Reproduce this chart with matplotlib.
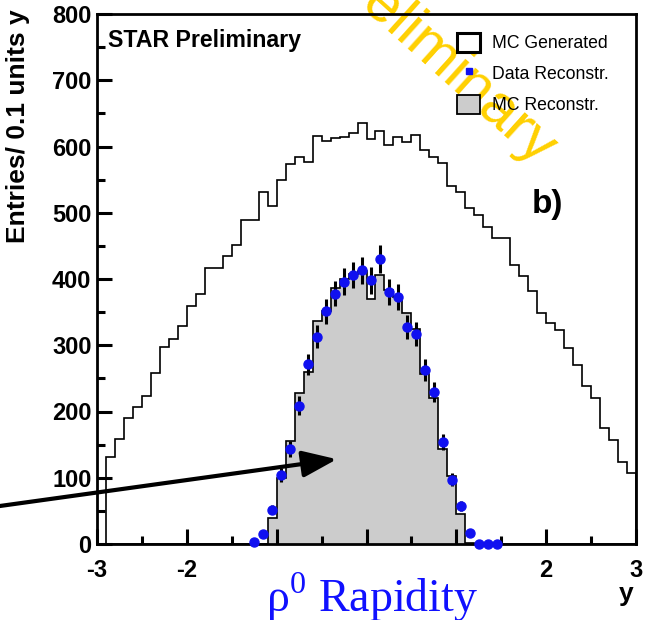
import numpy as np
import matplotlib
matplotlib.use("Agg")
import matplotlib.pyplot as plt
from matplotlib.patches import Patch
from matplotlib.lines import Line2D

plt.rcParams['font.family'] = ['Liberation Sans', 'DejaVu Sans']
plt.rcParams['axes.unicode_minus'] = False
plt.rcParams['mathtext.fontset'] = 'custom'
plt.rcParams['mathtext.rm'] = 'Liberation Serif'

# ======== Data (60 bins of 0.1 in y, from -3 to 3) ========
bin_edges = np.linspace(-3.0, 3.0, 61)

mc_generated = [
    0, 131, 158, 190, 207, 224, 258, 298, 309, 329,
    360, 377, 416, 416, 434, 451, 489, 489, 532, 510,
    549, 574, 584, 576, 616, 608, 613, 614, 620, 636,
    611, 624, 602, 615, 607, 618, 594, 584, 575, 540,
    532, 507, 497, 478, 462, 462, 421, 404, 382, 348,
    334, 323, 296, 270, 239, 220, 175, 157, 124, 107,
]

mc_reconstr = [
    0, 0, 0, 0, 0, 0, 0, 0, 0, 0,
    0, 0, 0, 0, 0, 0, 0, 0, 0, 40,
    100, 156, 228, 260, 337, 352, 387, 400, 407, 412,
    370, 406, 384, 373, 349, 325, 257, 220, 144, 103,
    46, 2, 0, 0, 0, 0, 0, 0, 0, 0,
    0, 0, 0, 0, 0, 0, 0, 0, 0, 0,
]

# data points: rapidity bin centres and counts
data_y = [-1.25, -1.15, -1.05, -0.95, -0.85, -0.75, -0.65, -0.55, -0.45,
          -0.35, -0.25, -0.15, -0.05, 0.05, 0.15, 0.25, 0.35, 0.45, 0.55,
          0.65, 0.75, 0.85, 0.95, 1.05, 1.15, 1.25, 1.35, 1.45]
data_counts = [3, 15, 52, 104, 143, 209, 271, 313, 351, 378, 396, 406, 413,
               398, 430, 381, 373, 327, 317, 263, 229, 154, 97, 58, 16, 0, 0, 0]

# -1, 0 and 1 are hidden under the title in the original
x_ticks = [-3, -2, -1, 0, 1, 2, 3]
x_tick_labels = ['-3', '-2', '', '', '', '2', '3']

BLUE = '#1010f0'
GREY = '#cccccc'

# ======== Plot ========
W, H = 648, 620
fig = plt.figure(figsize=(W / 100, H / 100), dpi=100)
ax = fig.add_axes([97 / W, 1 - 544 / H, 539 / W, 530 / H])

ax.stairs(mc_reconstr, bin_edges, fill=True, color=GREY, zorder=1)
ax.stairs(mc_reconstr, bin_edges, color='black', lw=1.2, zorder=2)
ax.stairs(mc_generated, bin_edges, color='black', lw=1.2, zorder=2)

yerr = np.sqrt(np.array(data_counts, dtype=float))
ax.errorbar(data_y, data_counts, yerr=yerr, fmt='none', ecolor='black',
            elinewidth=2.2, capsize=0, zorder=3)
ax.plot(data_y, data_counts, 'o', color=BLUE, markersize=6.5, zorder=4,
        clip_on=False)

ax.set_xlim(-3, 3)
ax.set_ylim(0, 800)
ax.set_xticks(x_ticks)
ax.set_xticklabels(x_tick_labels)
ax.set_xticks(np.arange(-2.5, 3, 1), minor=True)
ax.set_yticks(np.arange(0, 801, 100))
ax.set_yticks(np.arange(50, 800, 100), minor=True)
ax.tick_params(which='both', direction='in', top=False, right=False,
               width=2.2, labelsize=17)
ax.tick_params(which='major', length=11)
ax.tick_params(which='minor', length=5.5)
ax.tick_params(axis='x', pad=11)
ax.tick_params(axis='y', pad=4)
for lab in ax.get_xticklabels() + ax.get_yticklabels():
    lab.set_fontweight('bold')
for sp in ax.spines.values():
    sp.set_linewidth(2.0)

ax.set_ylabel('Entries/ 0.1 units y', fontsize=19, fontweight='bold', loc='top')
ax.yaxis.set_label_coords(-0.124, 1.008)
ax.set_xlabel('y', fontsize=19, fontweight='bold', loc='right')
ax.xaxis.set_label_coords(0.995, -0.072)

ax.text(0.0204, 0.938, 'STAR Preliminary', transform=ax.transAxes,
        fontsize=16.7, fontweight='bold', va='baseline', ha='left')
ax.text(0.807, 0.6245, 'b)', transform=ax.transAxes, fontsize=24,
        fontweight='bold', va='baseline', ha='left')

handles = [
    Patch(facecolor='white', edgecolor='black', linewidth=2.2),
    Line2D([], [], marker='s', color=BLUE, ls='none', markersize=4),
    Patch(facecolor=GREY, edgecolor='black', linewidth=1.3),
]
leg = ax.legend(handles, ['MC Generated', 'Data Reconstr.', 'MC Reconstr.'],
                loc='upper left', bbox_to_anchor=(0.668, 0.965), frameon=False,
                fontsize=12.7, handlelength=1.3, handleheight=1.3,
                handletextpad=0.68, labelspacing=0.66, borderpad=0,
                borderaxespad=0)
leg.set_zorder(6)

# arrow pointing into the reconstructed distribution
ax.annotate('', xy=(-0.33, 128), xytext=(-4.1, 57),
            arrowprops=dict(arrowstyle='-|>,head_length=0.7,head_width=0.27',
                            lw=3, color='black', mutation_scale=30,
                            shrinkA=0, shrinkB=0, clip_on=False),
            annotation_clip=False)

# watermark, under the legend
ax.text(436 / W, 1 - 58 / H, 'Preliminary', transform=fig.transFigure,
        color='#ffd000', fontsize=43, rotation=-42, ha='center', va='center',
        rotation_mode='anchor', zorder=2.5, clip_on=False)

fig.text(372 / W, 1 - 597 / H, 'ρ$^\\mathrm{0}$ Rapidity', color='#1010ff',
         fontsize=33, family=['Liberation Serif'], ha='center', va='center')

fig.savefig('out.png', dpi=100)
